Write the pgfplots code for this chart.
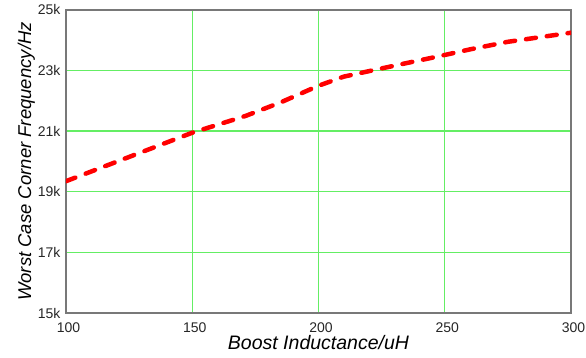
\documentclass[border=0pt]{standalone}
\usepackage{pgfplots}
\pgfplotsset{compat=1.18}
\usepackage{fontspec}
\setmainfont{Liberation Sans}
\definecolor{gridgreen}{RGB}{100,238,100}
\definecolor{framegray}{RGB}{120,120,120}
\begin{document}
\begin{tikzpicture}[x=1pt,y=1pt]
\path[use as bounding box] (-66,-45) rectangle (520,313);
\begin{axis}[
  at={(0,0)}, anchor=south west,
  scale only axis,
  width=505pt, height=303pt,
  xmin=100, xmax=300, ymin=15000, ymax=25000,
  xtick={100,150,...,300},
  ytick={15000,17000,...,25000},
  yticklabels={15k,17k,19k,21k,23k,25k},
  scaled y ticks=false,
  /pgf/number format/assume math mode=true,
  grid=major,
  major grid style={gridgreen, line width=1.4pt},
  axis line style={framegray, line width=1.5pt},
  major tick length=0pt,
  tick label style={font=\fontsize{14}{16}\selectfont, text=black!85},
  xticklabel style={yshift=-6pt, xshift=2.5pt},
  yticklabel style={xshift=-2pt},
  xlabel={\itshape Boost Inductance/uH},
  ylabel={\itshape Worst Case Corner Frequency/Hz},
  xlabel style={font=\fontsize{19.5}{21}\selectfont, yshift=4pt},
  ylabel style={font=\fontsize{18.5}{20}\selectfont, yshift=-4pt},
]
\addplot[red, line width=4.5pt, line cap=round, dash pattern=on 10pt off 11pt] coordinates {
(100,19350) (125,20150) (150,20950) (171,21500) (185,21950)
(200,22500) (210,22800) (221,23000) (235,23250) (247,23460) (260,23700) (275,23950) (300,24250)
};
\end{axis}
\end{tikzpicture}
\end{document}
